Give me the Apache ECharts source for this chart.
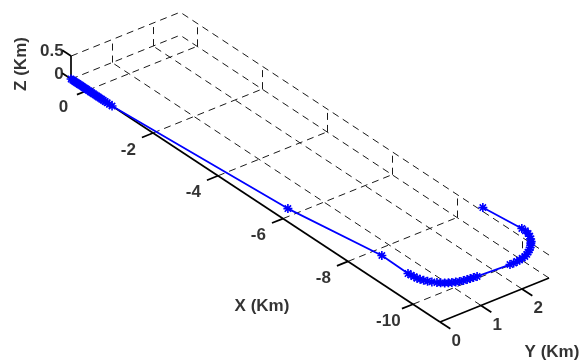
<!DOCTYPE html>
<html>
<head>
<meta charset="utf-8">
<script src="https://cdn.jsdelivr.net/npm/echarts@6/dist/echarts.min.js"></script>
<style>
  html, body { margin: 0; padding: 0; background: #fff; }
  #chart { width: 581px; height: 361px; }
</style>
</head>
<body>
<div id="chart"></div>
<script>
// flight path in km
const pathX = [0.52, 0.47, 0.43, 0.39, 0.35, 0.31, 0.27, 0.23, 0.19, 0.15, 0.11, 0.07, 0.03, -0.02, -0.07, -0.12, -0.17, -0.22, -0.27, -0.32, -0.37, -0.42, -0.47, -0.53, -0.59, -0.66, -0.74,
  -6.10, -8.89,
  -9.72, -9.80, -9.88, -9.96, -10.03, -10.10, -10.17, -10.24, -10.32, -10.37, -10.42, -10.46, -10.49, -10.52, -10.55, -10.57, -10.58, -10.59, -10.60, -10.61,
  -10.65, -10.65, -10.64, -10.63, -10.61, -10.59, -10.55, -10.50, -10.45, -10.39, -10.33, -10.27, -10.23, -10.15, -10.06, -9.96, -9.85, -9.74,
  -8.68]
const pathY = [0, 0, 0, 0, 0, 0, 0, 0, 0, 0, 0, 0, 0, 0, 0, 0, 0, 0, 0, 0, 0, 0, 0, 0, 0, 0, 0,
  0.04, 0.12,
  0.10, 0.11, 0.12, 0.13, 0.15, 0.18, 0.22, 0.27, 0.33, 0.38, 0.44, 0.50, 0.56, 0.63, 0.70, 0.78, 0.86, 0.93, 1.00, 1.08,
  1.85, 1.94, 2.03, 2.10, 2.18, 2.26, 2.34, 2.41, 2.48, 2.55, 2.61, 2.66, 2.70, 2.75, 2.80, 2.84, 2.86, 2.86,
  2.75]
const pathZ = [0, 0, 0, 0, 0, 0, 0, 0, 0, 0, 0, 0, 0, 0, 0, 0, 0, 0, 0, 0, 0, 0, 0, 0, 0, 0, 0,
  0.25, 0.5,
  0.5, 0.5, 0.5, 0.5, 0.5, 0.5, 0.5, 0.5, 0.5, 0.5, 0.5, 0.5, 0.5, 0.5, 0.5, 0.5, 0.5, 0.5, 0.5, 0.5,
  0.5, 0.5, 0.5, 0.5, 0.5, 0.5, 0.5, 0.5, 0.5, 0.5, 0.5, 0.5, 0.5, 0.5, 0.5, 0.5, 0.5, 0.5,
  0.5]

const xTicks = [0, -2, -4, -6, -8, -10]
const yTicks = [0, 1, 2]
const zTicks = [0, 0.5]
const xLim = [-10.83, 0.52]
const yLim = [0, 2.66]
const zLim = [0, 0.5]

// fixed orthographic view: where (0,0,0) lands and the step per km along each axis
const VIEW = { o: [88, 90.2], ex: [-32.5, -21.4], ey: [41, -16.5], ez: [0, -46] }
function proj(x, y, z) {
  return [
    VIEW.o[0] + x * VIEW.ex[0] + y * VIEW.ey[0] + z * VIEW.ez[0],
    VIEW.o[1] + x * VIEW.ex[1] + y * VIEW.ey[1] + z * VIEW.ez[1],
  ]
}
const seg = (a, b) => ({ coords: [proj(...a), proj(...b)] })

const [x0, x1] = xLim, [y0, y1] = yLim, [z0, z1] = zLim

// dashed grid on floor and the two back walls
const gridSegs = []
xTicks.forEach(x => gridSegs.push(seg([x, y0, z0], [x, y1, z0])))
gridSegs.push(seg([x1, y0, z0], [x1, y1, z0]))
yTicks.filter(y => y > y0).forEach(y => gridSegs.push(seg([x0, y, z0], [x1, y, z0])))
zTicks.forEach(z => gridSegs.push(seg([x0, y1, z], [x1, y1, z])))
xTicks.forEach(x => gridSegs.push(seg([x, y1, z0], [x, y1, z1])))
zTicks.filter(z => z > z0).forEach(z => gridSegs.push(seg([x1, y0, z], [x1, y1, z])))
yTicks.filter(y => y > y0).forEach(y => gridSegs.push(seg([x1, y, z0], [x1, y, z1])))

// axis lines and ticks
const axisSegs = [
  seg([x0, y0, z0], [x1, y0, z0]),
  seg([x0, y0, z0], [x0, y1, z0]),
  seg([x1, y0, z0], [x1, y0, z1]),
]
xTicks.forEach(x => axisSegs.push(seg([x, y0, z0], [x, y0 - 0.27, z0])))
yTicks.forEach(y => axisSegs.push(seg([x0, y, z0], [x0 - 0.32, y, z0])))
zTicks.forEach(z => axisSegs.push(seg([x1, y0, z], [x1 + 0.27, y0, z])))

const font = { fontFamily: 'Liberation Sans, Arial, sans-serif', fontWeight: 'bold', fontSize: 17, color: '#000' }
const labels = []
xTicks.forEach(x => labels.push({ value: proj(x, y0 - 0.6, z0), name: String(x), label: { offset: [0, 7] } }))
yTicks.forEach(y => labels.push({ value: proj(x0 - 0.5, y, z0), name: String(y), label: { offset: [0, 9] } }))
zTicks.forEach(z => labels.push({ value: proj(x1 + 0.35, y0, z), name: String(z), label: { align: 'right', offset: [4, 3] } }))

const titles = [
  { value: [262, 306], name: 'X (Km)' },
  { value: [552, 352], name: 'Y (Km)' },
  { value: [21, 64], name: 'Z (Km)', label: { rotate: 90 } },
]

const curve = pathX.map((x, i) => proj(x, pathY[i], pathZ[i]))

const chart = echarts.init(document.getElementById('chart'))
chart.setOption({
  animation: false,
  backgroundColor: '#fff',
  grid: { left: 0, right: 0, top: 0, bottom: 0 },
  xAxis: { type: 'value', min: 0, max: 581, show: false },
  yAxis: { type: 'value', min: 0, max: 361, inverse: true, show: false },
  series: [
    {
      type: 'lines', coordinateSystem: 'cartesian2d', silent: true, z: 1,
      lineStyle: { color: '#1a1a1a', width: 1, type: [7, 5], opacity: 1 },
      data: gridSegs,
    },
    {
      type: 'lines', coordinateSystem: 'cartesian2d', silent: true, z: 2,
      lineStyle: { color: '#000', width: 1.7, opacity: 1 },
      data: axisSegs,
    },
    {
      type: 'line', z: 3, data: curve,
      symbol: 'path://M5,0L5,10M0,5L10,5M1.5,1.5L8.5,8.5M1.5,8.5L8.5,1.5',
      symbolSize: 9,
      itemStyle: { color: '#0000ff', borderColor: '#0000ff', borderWidth: 1.6 },
      lineStyle: { color: '#0000ff', width: 1.8 },
    },
    {
      type: 'scatter', z: 4, symbolSize: 0, silent: true,
      label: { show: true, position: 'inside', formatter: p => p.name, ...font },
      data: labels.concat(titles),
    },
  ],
})
</script>
</body>
</html>
